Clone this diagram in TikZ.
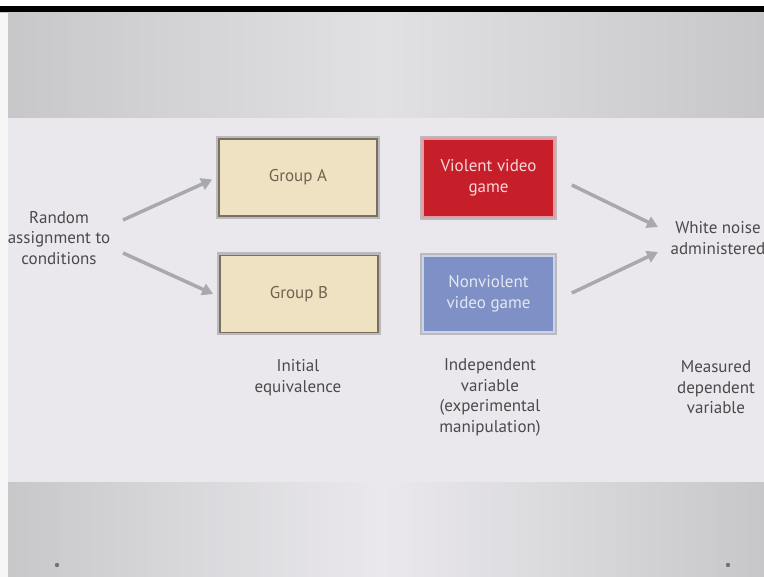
\documentclass[tikz,border=0pt]{standalone}
\usepackage{fontspec}
\setmainfont{PT Sans}
\usetikzlibrary{arrows.meta}
\definecolor{sand}{HTML}{EFE2C2}
\definecolor{sandline}{HTML}{7A7062}
\definecolor{sandtext}{HTML}{6E6350}
\definecolor{gamered}{HTML}{C71F2A}
\definecolor{gameblue}{HTML}{7F90C6}
\definecolor{arrowgray}{HTML}{A9A9AD}
\definecolor{textgray}{HTML}{4A4A4C}
\definecolor{slide}{HTML}{EAE8EC}
\definecolor{slidemid}{HTML}{E1E0E3}
\definecolor{slideedge}{HTML}{C7C7CA}
\begin{document}
\begin{tikzpicture}[x=1pt,y=1pt,
  font=\fontsize{17pt}{20.5pt}\selectfont,
  halo/.style={preaction={draw=black, opacity=.2, line width=6pt}},
  box/.style={halo, inner sep=0pt, align=center, line width=1.6pt},
  grp/.style={box, fill=sand, draw=sandline, text=sandtext, minimum width=158pt, minimum height=77pt},
  vio/.style={box, fill=gamered, draw=gamered!45!white, text=gamered!18!white, minimum width=131pt, minimum height=78pt},
  calm/.style={box, fill=gameblue, draw=gameblue!40!white, text=gameblue!22!white, minimum width=131pt, minimum height=76pt},
  lab/.style={align=center, text=textgray},
  arr/.style={-{Triangle[length=11pt,width=12pt]}, line width=3.5pt, draw=arrowgray}
]
\useasboundingbox (0,0) rectangle (764,-577);
\fill[white] (0,0) rectangle (764,-577);
\fill[black] (0,-6) rectangle (764,-13);
\shade[left color=slideedge, right color=slideedge, middle color=slidemid] (0,-13) rectangle (764,-118);
\fill[slide] (0,-118) rectangle (764,-483);
\shade[left color=slideedge, right color=slideedge, middle color=slide] (0,-483) rectangle (764,-577);
\fill[black!55] (57,-565) circle (2.2pt);
\fill[black!55] (728,-565) circle (2.2pt);
\node[grp]  (grpA)  at (298,-177.5) {Group A};
\node[grp]  (grpB)  at (299,-294)   {Group B};
\node[vio]  (viol)  at (488.5,-178) {Violent video\\game};
\node[calm] (nonv)  at (488.5,-294) {Nonviolent\\video game};
\node[lab]  (rand)  at (59,-238)    {Random\\assignment to\\conditions};
\node[lab]  (noise) at (718,-238)   {White noise\\administered};
\node[lab]  (equiv) at (298,-377.5) {Initial\\equivalence};
\node[lab]  (indep) at (490,-397.5) {Independent\\variable\\(experimental\\manipulation)};
\node[lab]  (meas)  at (716,-387.5) {Measured\\dependent\\variable};
\draw[arr] ([shift={(64,18)}]rand.center) -- ([shift={(-6,-2)}]grpA.west);
\draw[arr] ([shift={(64,-15)}]rand.center) -- ([shift={(-6,0)}]grpB.west);
\draw[arr] ([shift={(17,-7)}]viol.east) -- ([shift={(-60,11)}]noise.center);
\draw[arr] ([shift={(17,1)}]nonv.east) -- ([shift={(-60,-14)}]noise.center);
\fill[white!60!slide] (0,-13) rectangle (8,-577);
\end{tikzpicture}
\end{document}
